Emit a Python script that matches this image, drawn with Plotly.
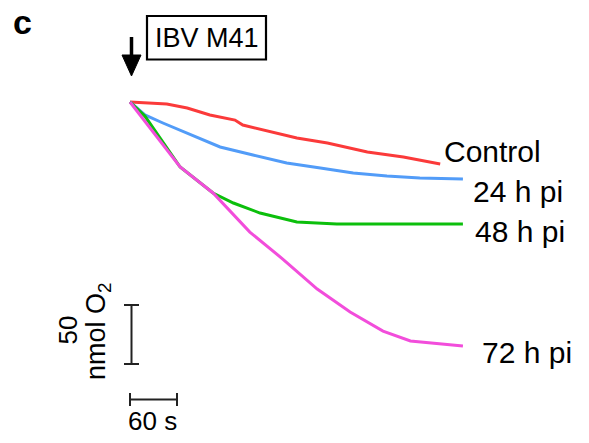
import plotly.graph_objects as go

# ---- data (time in s after IBV M41 addition, O2 change in nmol) ----
t_control = [0, 47, 73, 102, 134, 144, 213, 252, 303, 349, 396]
o2_control = [0, -1.7, -5.1, -11.0, -15.3, -19.5, -30.5, -34.7, -42.4, -46.6, -52.5]

t_24h = [0, 19, 42, 73, 115, 157, 200, 243, 285, 328, 370, 425]
o2_24h = [0, -11.0, -17.8, -26.3, -38.1, -44.9, -51.7, -55.9, -60.2, -62.7, -64.4, -65.3]

t_48h = [0, 19, 64, 106, 132, 166, 213, 264, 345, 425]
o2_48h = [0, -11.9, -55.1, -77.1, -85.6, -94.1, -101.7, -103.4, -103.4, -103.4]

t_72h = [0, 64, 106, 153, 195, 239, 281, 323, 358, 425]
o2_72h = [0, -55.1, -77.1, -110.2, -133.1, -158.5, -178.0, -194.1, -202.5, -206.8]

series_names = ["Control", "24 h pi", "48 h pi", "72 h pi"]
series_colors = ["#fb3a3a", "#529cf8", "#0cbf0c", "#f24ddb"]

SCALE_O2 = 50   # nmol O2
SCALE_T = 60    # s

# ---- pixel <-> data helpers for layout placement ----
W, H = 589, 443
PX_PER_S = 47 / 60
PX_PER_NMOL = 59 / 50
X0, Y0 = 130, 102


def dx(px):
    return (px - X0) / PX_PER_S


def dy(py):
    return -(py - Y0) / PX_PER_NMOL


FONT = "Liberation Sans, Arial, Helvetica, sans-serif"

fig = go.Figure()
for t, o2, name, col in zip([t_control, t_24h, t_48h, t_72h],
                            [o2_control, o2_24h, o2_48h, o2_72h],
                            series_names, series_colors):
    fig.add_trace(go.Scatter(x=t, y=o2, mode="lines", name=name,
                             line=dict(color=col, width=3), hoverinfo="skip"))

# scale bars
bar_col = "#222222"
vx = dx(131.5)
vy0 = dy(364)
cap_x = 7.5 / PX_PER_S
fig.add_trace(go.Scatter(x=[vx, vx], y=[vy0, vy0 + SCALE_O2], mode="lines",
                         line=dict(color=bar_col, width=2), hoverinfo="skip"))
for yy in [vy0, vy0 + SCALE_O2]:
    fig.add_trace(go.Scatter(x=[vx - cap_x, vx + cap_x], y=[yy, yy], mode="lines",
                             line=dict(color=bar_col, width=2), hoverinfo="skip"))
hx0 = dx(130)
hy = dy(399.5)
cap_y = 6.5 / PX_PER_NMOL
fig.add_trace(go.Scatter(x=[hx0, hx0 + SCALE_T], y=[hy, hy], mode="lines",
                         line=dict(color=bar_col, width=2), hoverinfo="skip"))
for xx in [hx0, hx0 + SCALE_T]:
    fig.add_trace(go.Scatter(x=[xx, xx], y=[hy - cap_y, hy + cap_y], mode="lines",
                             line=dict(color=bar_col, width=2), hoverinfo="skip"))

annotations = []


def label(text, px, py, size, xanchor="left", angle=0, bold=False):
    annotations.append(dict(
        x=dx(px), y=dy(py), xref="x", yref="y", text=("<b>%s</b>" % text) if bold else text,
        showarrow=False, xanchor=xanchor, yanchor="middle", textangle=angle,
        font=dict(family=FONT, size=size, color="black")))


label("Control", 442, 151, 30)
label("24 h pi", 471, 191, 30)
label("48 h pi", 473, 231, 30)
label("72 h pi", 480, 352, 30)
label("50", 67.5, 330, 26, xanchor="center", angle=-90)
label("nmol O<sub>2</sub>", 98, 331, 27, xanchor="center", angle=-90)
label("60 s", 152, 421, 26, xanchor="center")
label("IBV M41", 206.5, 37.5, 27, xanchor="center")
label("c", 22.5, 22, 34, xanchor="center", bold=True)

shapes = [
    dict(type="rect", xref="x", yref="y", x0=dx(147), x1=dx(266), y0=dy(16), y1=dy(59.5),
         line=dict(color="black", width=2.2), fillcolor="rgba(0,0,0,0)"),
    dict(type="line", xref="x", yref="y", x0=dx(131.5), x1=dx(131.5), y0=dy(37), y1=dy(57),
         line=dict(color="black", width=3.5)),
    dict(type="path", xref="x", yref="y",
         path="M %f,%f L %f,%f L %f,%f Z" % (dx(122), dy(55), dx(141), dy(55), dx(131.5), dy(76)),
         fillcolor="black", line=dict(color="black", width=1)),
]

fig.update_layout(
    width=W, height=H, autosize=False,
    margin=dict(l=0, r=0, t=0, b=0, pad=0),
    paper_bgcolor="white", plot_bgcolor="white",
    showlegend=False,
    xaxis=dict(range=[dx(0), dx(W)], visible=False, fixedrange=True),
    yaxis=dict(range=[dy(H), dy(0)], visible=False, fixedrange=True),
    annotations=annotations, shapes=shapes,
)

fig.write_html("out.html", config=dict(displayModeBar=False),
               post_script="document.body.style.margin='0px';document.body.style.overflow='hidden';")
